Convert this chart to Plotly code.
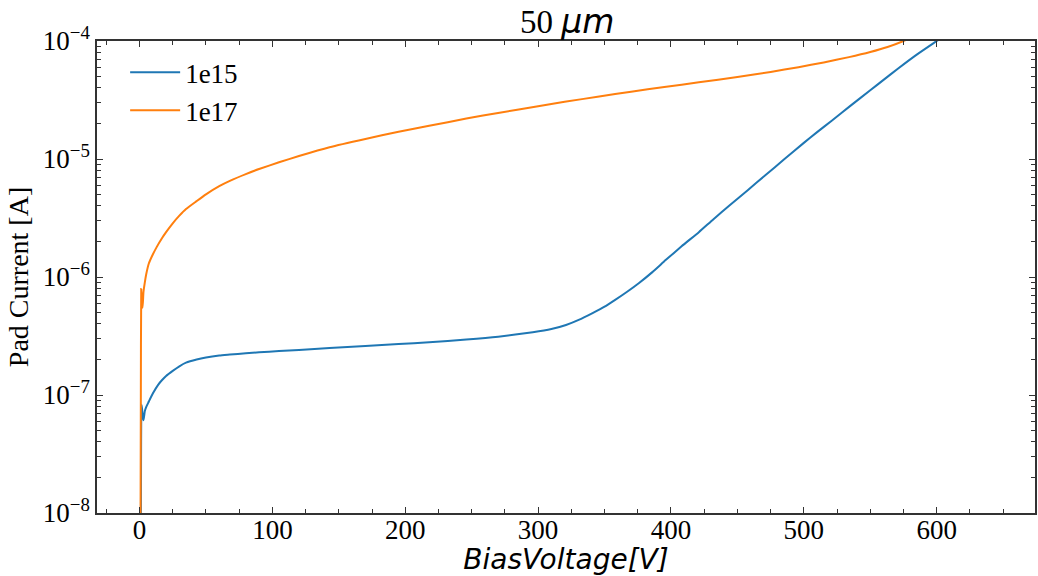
import plotly.graph_objects as go

# I-V scans of 50 um pads at two fluences
v_1e15 = [0, 0.5, 1, 1.5, 2, 2.5, 3, 4, 5, 7, 10, 14, 17, 20, 25, 30, 35, 43, 50,
          60, 68, 80, 90, 105, 120, 143, 170, 195, 218, 246, 270, 296, 310, 321,
          331, 341, 350, 358, 367, 376, 386, 396, 408, 421, 432, 444, 458, 471,
          485, 500, 510, 521, 535, 550, 560, 571, 585, 600, 615, 630]
i_1e15 = [1e-11, 2e-10, 3e-9, 8.3e-8, 7.5e-8, 6.5e-8, 6.1e-8, 7.3e-8, 7.9e-8,
          8.8e-8, 1.03e-7, 1.22e-7, 1.34e-7, 1.45e-7, 1.6e-7, 1.75e-7, 1.88e-7,
          2.0e-7, 2.08e-7, 2.16e-7, 2.2e-7, 2.26e-7, 2.3e-7, 2.36e-7, 2.41e-7,
          2.5e-7, 2.6e-7, 2.7e-7, 2.8e-7, 2.95e-7, 3.12e-7, 3.4e-7, 3.62e-7,
          3.92e-7, 4.35e-7, 4.95e-7, 5.6e-7, 6.4e-7, 7.5e-7, 8.9e-7, 1.1e-6,
          1.39e-6, 1.82e-6, 2.4e-6, 3.09e-6, 4.03e-6, 5.47e-6, 7.28e-6, 9.89e-6,
          1.37e-5, 1.69e-5, 2.11e-5, 2.82e-5, 3.82e-5, 4.68e-5, 5.85e-5, 7.67e-5,
          1.0e-4, 1.3e-4, 1.7e-4]

v_1e17 = [0, 0.6, 1.0, 1.3, 1.8, 2.3, 3, 4, 5, 7, 10, 13, 17, 20, 25, 30, 35, 43,
          50, 60, 68, 80, 90, 105, 120, 143, 170, 195, 218, 246, 271, 300, 320,
          346, 370, 395, 421, 450, 475, 496, 515, 534, 550, 563, 575, 590, 610]
i_1e17 = [1e-11, 1e-9, 1e-7, 7.9e-7, 6.0e-7, 5.5e-7, 7.5e-7, 9.0e-7, 1.05e-6,
          1.3e-6, 1.55e-6, 1.8e-6, 2.14e-6, 2.4e-6, 2.85e-6, 3.31e-6, 3.77e-6,
          4.4e-6, 5.02e-6, 5.89e-6, 6.53e-6, 7.45e-6, 8.22e-6, 9.38e-6, 1.06e-5,
          1.26e-5, 1.48e-5, 1.7e-5, 1.91e-5, 2.2e-5, 2.47e-5, 2.8e-5, 3.05e-5,
          3.39e-5, 3.72e-5, 4.07e-5, 4.47e-5, 4.95e-5, 5.47e-5, 6.0e-5, 6.58e-5,
          7.3e-5, 8.07e-5, 8.9e-5, 1.0e-4, 1.2e-4, 1.58e-4]

x_ticks = [0, 100, 200, 300, 400, 500, 600]
y_exponents = [-8, -7, -6, -5, -4]
y_ticks = [10.0 ** e for e in y_exponents]
y_ticktext = ["10<sup>\u2212%d</sup>" % (-e) for e in y_exponents]
y_minor = [m * 10.0 ** e for e in y_exponents[:-1] for m in range(2, 10)]

serif = "Liberation Serif, Times New Roman, serif"
sans = "DejaVu Sans, sans-serif"
axis_color = "#333333"

fig = go.Figure()
fig.add_trace(go.Scatter(x=v_1e15, y=i_1e15, mode="lines", name="1e15",
                         line=dict(color="#1f77b4", width=2, shape="spline", smoothing=0.5)))
fig.add_trace(go.Scatter(x=v_1e17, y=i_1e17, mode="lines", name="1e17",
                         line=dict(color="#ff7f0e", width=2, shape="spline", smoothing=0.5)))

fig.update_layout(
    width=1038, height=576,
    margin=dict(l=97, r=1, t=41, b=63),
    paper_bgcolor="white", plot_bgcolor="white",
    title=dict(
        text='50 <span style="font-family:DejaVu Sans"><i>\u03bcm</i></span>',
        x=0.5465, xanchor="center", y=0.962, yanchor="middle",
        font=dict(family=serif, size=33, color="black")),
    legend=dict(x=0.03, y=0.985, xanchor="left", yanchor="top",
                bgcolor="rgba(0,0,0,0)", font=dict(family=serif, size=27, color="black"),
                tracegroupgap=0, itemwidth=50),
    showlegend=True,
)

fig.update_xaxes(
    range=[-32, 674], tickmode="array", tickvals=x_ticks,
    ticks="inside", ticklen=6, tickwidth=1.2, tickcolor=axis_color,
    minor=dict(dtick=25, tick0=0, ticks="inside", ticklen=4, tickwidth=1.2, tickcolor=axis_color),
    showline=True, linecolor=axis_color, linewidth=1.5, mirror="allticks",
    showgrid=False, zeroline=False, ticklabelstandoff=-8,
    tickfont=dict(family=serif, size=27, color="black"),
    title=dict(text="<i>BiasVoltage[V]</i>", font=dict(family=sans, size=28, color="black"),
               standoff=0),
)

fig.update_yaxes(
    type="log", range=[-8, -4], tickmode="array", tickvals=y_ticks, ticktext=y_ticktext,
    ticks="inside", ticklen=6, tickwidth=1.2, tickcolor=axis_color,
    minor=dict(tickmode="array", tickvals=y_minor, ticks="inside", ticklen=4,
               tickwidth=1.2, tickcolor=axis_color),
    showline=True, linecolor=axis_color, linewidth=1.5, mirror="allticks",
    showgrid=False, zeroline=False,
    tickfont=dict(family=serif, size=27, color="black"),
    title=dict(text="Pad Current [A]", font=dict(family=serif, size=28, color="black"),
               standoff=6),
)

fig.write_html("out.html")
